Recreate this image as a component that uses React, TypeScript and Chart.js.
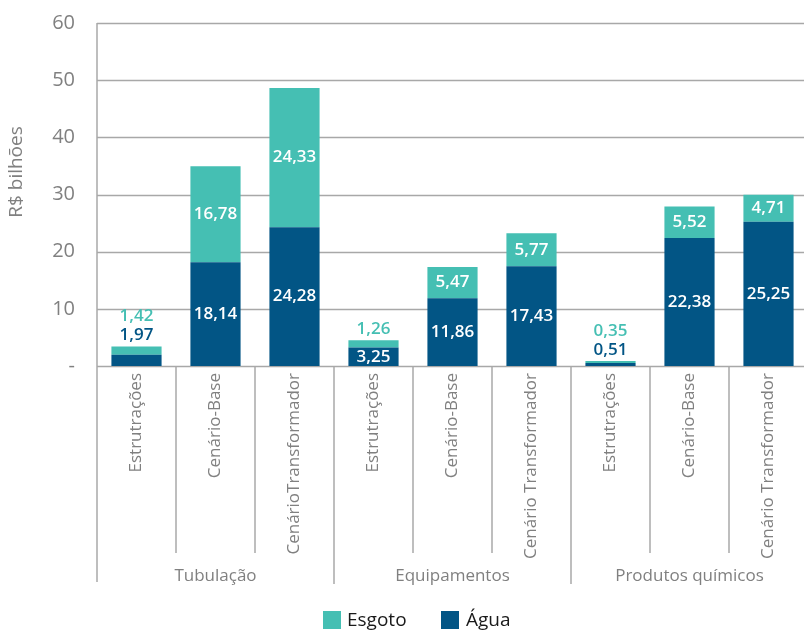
import React, { useEffect, useRef } from "react";
import { Chart, registerables } from "chart.js";

Chart.register(...registerables);

const categories = [
  "Estrutrações", "Cenário-Base", "CenárioTransformador",
  "Estrutrações", "Cenário-Base", "Cenário Transformador",
  "Estrutrações", "Cenário-Base", "Cenário Transformador",
];
const groups = ["Tubulação", "Equipamentos", "Produtos químicos"];
const groupSize = 3;
const agua = [1.97, 18.14, 24.28, 3.25, 11.86, 17.43, 0.51, 22.38, 25.25];
const esgoto = [1.42, 16.78, 24.33, 1.26, 5.47, 5.77, 0.35, 5.52, 4.71];
const yTicks = [0, 10, 20, 30, 40, 50, 60];
const yTickLabels = ["-", "10", "20", "30", "40", "50", "60"];

const TEAL = "#45BFB3";
const BLUE = "#025585";
const GRID = "#A8A8A8";
const TXT = "#808080";
const FONT = "'Open Sans', sans-serif";

const fmt = (v: number) => v.toFixed(2).replace(".", ",");

const customPlugin = {
  id: "custom",
  beforeDatasetsDraw(chart: any) {
    const { ctx, chartArea, scales } = chart;
    const y = scales.y;
    ctx.save();
    ctx.strokeStyle = GRID;
    ctx.lineWidth = 1.5;
    yTicks.forEach((t) => {
      const py = Math.round(y.getPixelForValue(t)) + 0.5;
      ctx.beginPath();
      ctx.moveTo(chartArea.left, py);
      ctx.lineTo(chartArea.right, py);
      ctx.stroke();
    });
    ctx.restore();
  },
  afterDatasetsDraw(chart: any) {
    const { ctx, chartArea, scales } = chart;
    const x = scales.x;
    const y = scales.y;
    ctx.save();
    ctx.strokeStyle = GRID;
    ctx.lineWidth = 1.5;
    const left = chartArea.left;
    const catW = (chartArea.right - chartArea.left) / categories.length;
    ctx.beginPath();
    ctx.moveTo(left, chartArea.top);
    ctx.lineTo(left, chartArea.bottom + 216);
    ctx.stroke();
    for (let i = 1; i <= categories.length; i++) {
      const px = left + catW * i;
      const isGroup = i % groupSize === 0;
      ctx.beginPath();
      ctx.moveTo(px, chartArea.bottom);
      ctx.lineTo(px, chartArea.bottom + (isGroup ? 218 : 187));
      ctx.stroke();
    }
    ctx.fillStyle = TXT;
    ctx.font = `20px ${FONT}`;
    ctx.textAlign = "right";
    ctx.textBaseline = "middle";
    yTicks.forEach((t, i) => {
      ctx.fillText(yTickLabels[i], 75, y.getPixelForValue(t));
    });
    ctx.save();
    ctx.translate(17, 172);
    ctx.rotate(-Math.PI / 2);
    ctx.textAlign = "center";
    ctx.font = `19px ${FONT}`;
    ctx.fillText("R$ bilhões", 0, 0);
    ctx.restore();
    ctx.font = `17px ${FONT}`;
    categories.forEach((c, i) => {
      const px = x.getPixelForValue(i);
      ctx.save();
      ctx.translate(px, chartArea.bottom + 7);
      ctx.rotate(-Math.PI / 2);
      ctx.textAlign = "right";
      ctx.textBaseline = "middle";
      ctx.fillText(c, 0, 0);
      ctx.restore();
    });
    ctx.textAlign = "center";
    ctx.textBaseline = "middle";
    groups.forEach((g, gi) => {
      const cx = left + catW * (gi * groupSize + groupSize / 2);
      ctx.fillText(g, cx, chartArea.bottom + 210);
    });
    ctx.font = `600 17px ${FONT}`;
    const m0 = chart.getDatasetMeta(0);
    const m1 = chart.getDatasetMeta(1);
    agua.forEach((a, i) => {
      const e = esgoto[i];
      const px = m0.data[i].x;
      const y0 = y.getPixelForValue(0);
      const y1 = y.getPixelForValue(a);
      const y2 = y.getPixelForValue(a + e);
      let above = y2 - 11;
      const inA = y0 - y1 > 15;
      const inE = y1 - y2 > 15;
      if (inA) {
        ctx.fillStyle = "#fff";
        ctx.fillText(fmt(a), px, (y0 + y1) / 2);
      } else {
        ctx.fillStyle = BLUE;
        ctx.fillText(fmt(a), px, above);
        above -= 19;
      }
      if (inE) {
        ctx.fillStyle = "#fff";
        ctx.fillText(fmt(e), px, (y1 + y2) / 2);
      } else {
        ctx.fillStyle = TEAL;
        ctx.fillText(fmt(e), m1.data[i].x, above);
      }
    });
    ctx.textAlign = "left";
    ctx.font = `19px ${FONT}`;
    ctx.fillStyle = TEAL;
    ctx.fillRect(323, 611, 18, 18);
    ctx.fillStyle = "#1a1a1a";
    ctx.fillText("Esgoto", 347, 621);
    ctx.fillStyle = BLUE;
    ctx.fillRect(441, 611, 18, 18);
    ctx.fillStyle = "#1a1a1a";
    ctx.fillText("Água", 466, 621);
    ctx.restore();
  },
};

export default function App() {
  const ref = useRef<HTMLCanvasElement>(null);
  useEffect(() => {
    if (!ref.current) return;
    const chart = new Chart(ref.current, {
      type: "bar",
      data: {
        labels: categories,
        datasets: [
          { label: "Água", data: agua, backgroundColor: BLUE, stack: "s" },
          { label: "Esgoto", data: esgoto, backgroundColor: TEAL, stack: "s" },
        ],
      },
      options: {
        responsive: false,
        animation: false,
        layout: { padding: { left: 97, top: 23, right: 4, bottom: 264 } },
        plugins: { legend: { display: false }, tooltip: { enabled: false } },
        datasets: { bar: { barPercentage: 0.635, categoryPercentage: 1 } },
        scales: {
          x: { display: false, stacked: true },
          y: { display: false, stacked: true, min: 0, max: 60 },
        },
      },
      plugins: [customPlugin],
    });
    return () => chart.destroy();
  }, []);
  return (
    <div style={{ position: "fixed", left: 0, top: 0, width: 812, height: 630, overflow: "hidden" }}>
      <canvas ref={ref} width={812} height={630} style={{ display: "block" }} />
    </div>
  );
}
